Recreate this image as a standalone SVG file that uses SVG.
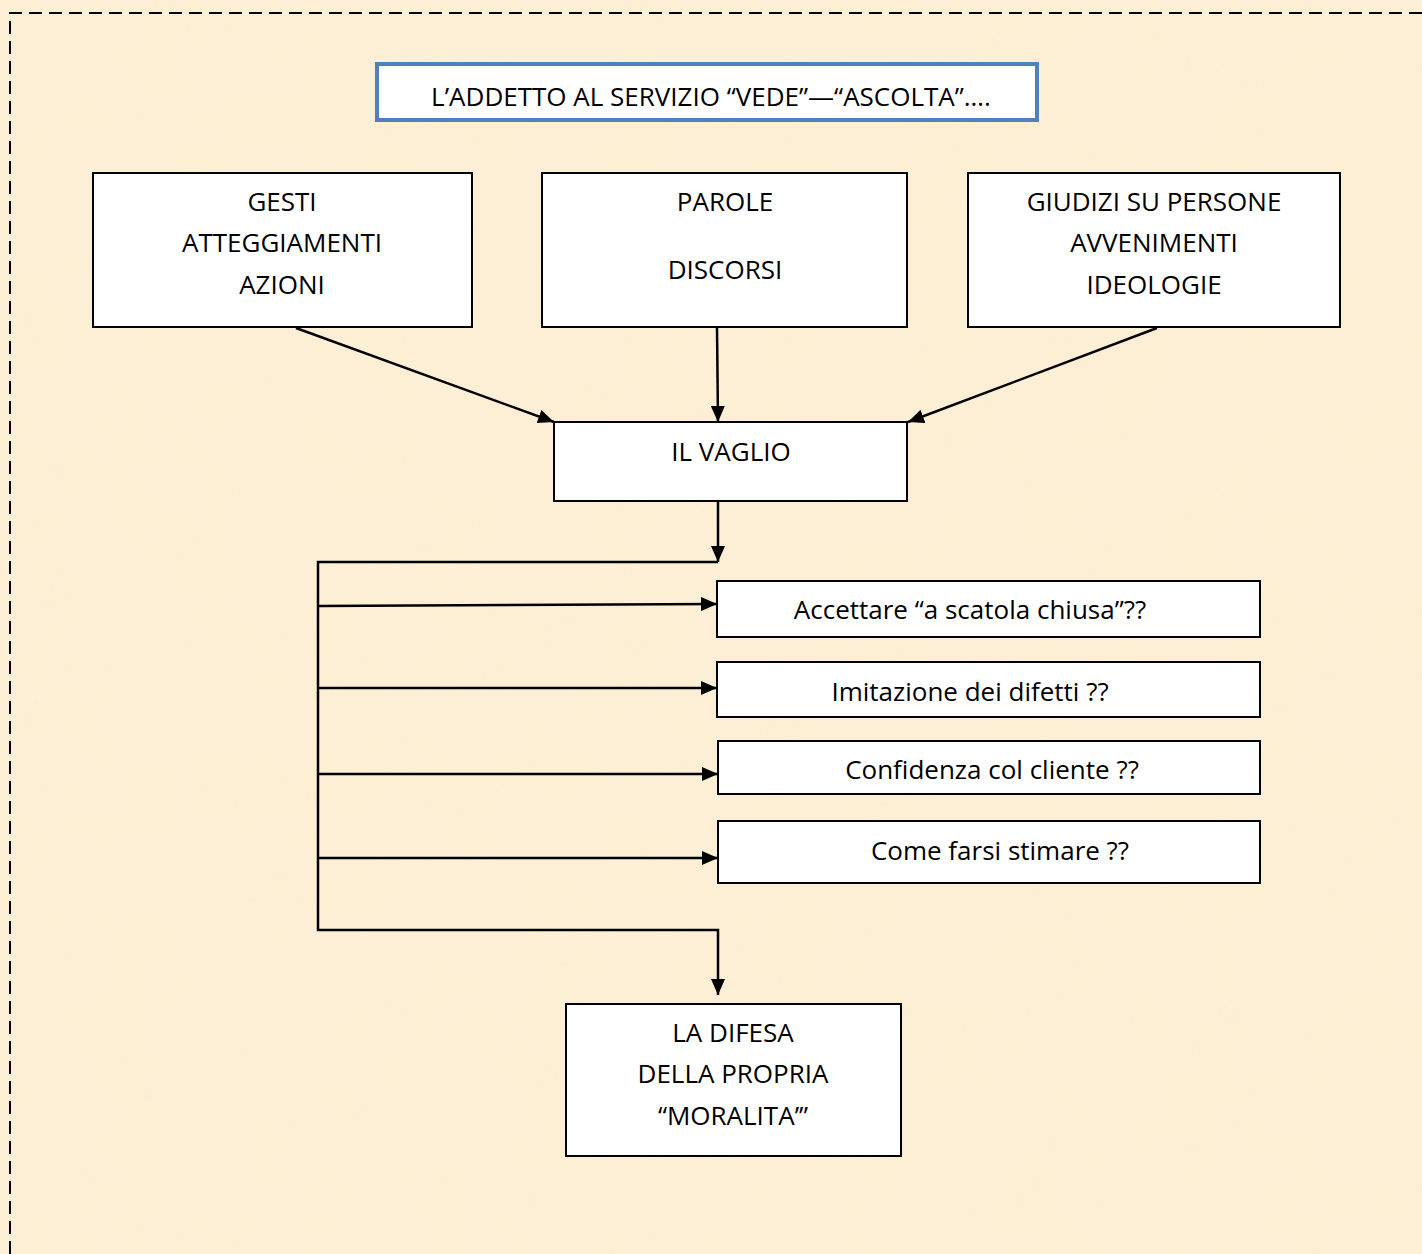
<svg xmlns="http://www.w3.org/2000/svg" width="1422" height="1254" viewBox="0 0 1422 1254">
<defs>
<marker id="ah" markerWidth="16" markerHeight="14" refX="16" refY="7" orient="auto" markerUnits="userSpaceOnUse">
<path d="M0,0 L16,7 L0,14 Z" fill="#000"/>
</marker>
<filter id="tex" x="0" y="0" width="100%" height="100%">
<feTurbulence type="fractalNoise" baseFrequency="0.012" numOctaves="3" seed="4"/>
<feColorMatrix type="matrix" values="0 0 0 0 0.93  0 0 0 0 0.84  0 0 0 0 0.62  0 0 0 1.2 -0.45"/>
</filter>
</defs>
<style>
.box{fill:#fff;stroke:#000;stroke-width:2}
.t{font-family:"Open Sans","Liberation Sans",sans-serif;font-size:26px;fill:#000;text-anchor:middle}
.c{fill:none;stroke:#000;stroke-width:2.5}
</style>
<rect width="1422" height="1254" fill="#fcefd5"/>
<rect width="1422" height="1254" filter="url(#tex)" opacity="0.35"/>
<path d="M10,1254 L10,13 L1422,13" fill="none" stroke="#000" stroke-width="2" stroke-dasharray="13,7"/>

<g id="title">
<rect x="377" y="64" width="660" height="56" fill="#fff" stroke="#4f81bd" stroke-width="4"/>
<text class="t" x="711" y="106">L’ADDETTO AL SERVIZIO “VEDE”—“ASCOLTA”….</text>
</g>
<g id="gesti">
<rect class="box" x="93" y="173" width="379" height="154"/>
<text class="t" x="282" y="211">GESTI</text>
<text class="t" x="282" y="252">ATTEGGIAMENTI</text>
<text class="t" x="282" y="294">AZIONI</text>
</g>
<g id="parole">
<rect class="box" x="542" y="173" width="365" height="154"/>
<text class="t" x="725" y="211">PAROLE</text>
<text class="t" x="725" y="279">DISCORSI</text>
</g>
<g id="giudizi">
<rect class="box" x="968" y="173" width="372" height="154"/>
<text class="t" x="1154" y="211">GIUDIZI SU PERSONE</text>
<text class="t" x="1154" y="252">AVVENIMENTI</text>
<text class="t" x="1154" y="294">IDEOLOGIE</text>
</g>
<g id="vaglio">
<rect class="box" x="554" y="422" width="353" height="79"/>
<text class="t" x="731" y="461">IL VAGLIO</text>
</g>
<g id="accettare">
<rect class="box" x="717" y="581" width="543" height="56"/>
<text class="t" x="970" y="619">Accettare “a scatola chiusa”??</text>
</g>
<g id="imitazione">
<rect class="box" x="717" y="662" width="543" height="55"/>
<text class="t" x="970" y="701">Imitazione dei difetti ??</text>
</g>
<g id="confidenza">
<rect class="box" x="718" y="741" width="542" height="53"/>
<text class="t" x="992" y="779">Confidenza col cliente ??</text>
</g>
<g id="stimare">
<rect class="box" x="718" y="821" width="542" height="62"/>
<text class="t" x="1000" y="860">Come farsi stimare ??</text>
</g>
<g id="difesa">
<rect class="box" x="566" y="1004" width="335" height="152"/>
<text class="t" x="733" y="1042">LA DIFESA</text>
<text class="t" x="733" y="1083">DELLA PROPRIA</text>
<text class="t" x="733" y="1125">“MORALITA’”</text>
</g>

<g id="connectors">
<line class="c" x1="296" y1="328" x2="554" y2="422" marker-end="url(#ah)"/>
<line class="c" x1="717" y1="328" x2="718" y2="422" marker-end="url(#ah)"/>
<line class="c" x1="1157" y1="328" x2="908" y2="422" marker-end="url(#ah)"/>
<line class="c" x1="718" y1="501" x2="718" y2="562" marker-end="url(#ah)"/>
<polyline class="c" points="718,562 318,562 318,930 718,930 718,995" marker-end="url(#ah)"/>
<line class="c" x1="318" y1="606" x2="717" y2="604" marker-end="url(#ah)"/>
<line class="c" x1="318" y1="688" x2="717" y2="688" marker-end="url(#ah)"/>
<line class="c" x1="318" y1="774" x2="718" y2="774" marker-end="url(#ah)"/>
<line class="c" x1="318" y1="858" x2="718" y2="858" marker-end="url(#ah)"/>
</g>
</svg>
